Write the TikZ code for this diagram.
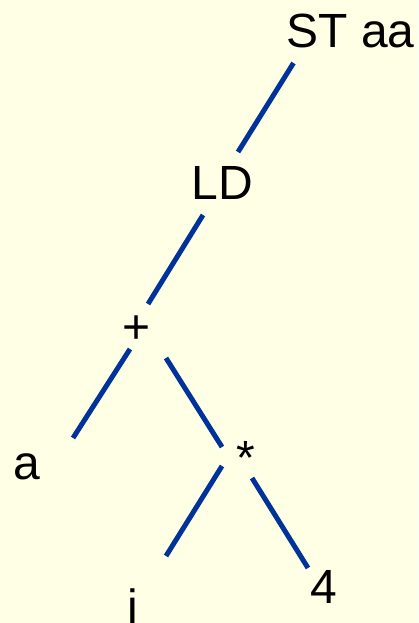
\documentclass[tikz,border=0pt]{standalone}
\usepackage{fontspec}
\setmainfont{Liberation Sans}
\definecolor{paper}{RGB}{255,255,230}
\definecolor{branchblue}{RGB}{0,51,153}
\tikzset{
  leaf/.style={inner sep=0pt, anchor=base, font=\fontsize{48}{58}\selectfont},
  branch/.style={draw=branchblue, line width=5pt}
}
\begin{document}
\begin{tikzpicture}[x=1pt, y=-1pt]
\fill[paper] (0,0) rectangle (418,623);
\useasboundingbox (0,0) rectangle (418,623);
\node[leaf] (st) at (350.5,48) {ST aa};
\node[leaf] (ld) at (222.5,199) {LD};
\node[leaf] (plus) at (136.5,343) {+};
\node[leaf] (mul) at (246,474) {*};
\node[leaf] (a) at (26.5,479) {a};
\node[leaf] (i) at (133,623) {i};
\node[leaf] (four) at (324,603) {4};
\draw[branch] ([shift={(-57,15)}]st.base) -- ([shift={(15.5,-47)}]ld.base);
\draw[branch] ([shift={(-19.5,16)}]ld.base) -- ([shift={(11.5,-39)}]plus.base);
\draw[branch] ([shift={(-6.5,6)}]plus.base) -- ([shift={(46.5,-41)}]a.base);
\draw[branch] ([shift={(29.5,15)}]plus.base) -- ([shift={(-24,-27)}]mul.base);
\draw[branch] ([shift={(-24,-8)}]mul.base) -- ([shift={(33,-67)}]i.base);
\draw[branch] ([shift={(6,4)}]mul.base) -- ([shift={(-16,-35)}]four.base);
\end{tikzpicture}
\end{document}
